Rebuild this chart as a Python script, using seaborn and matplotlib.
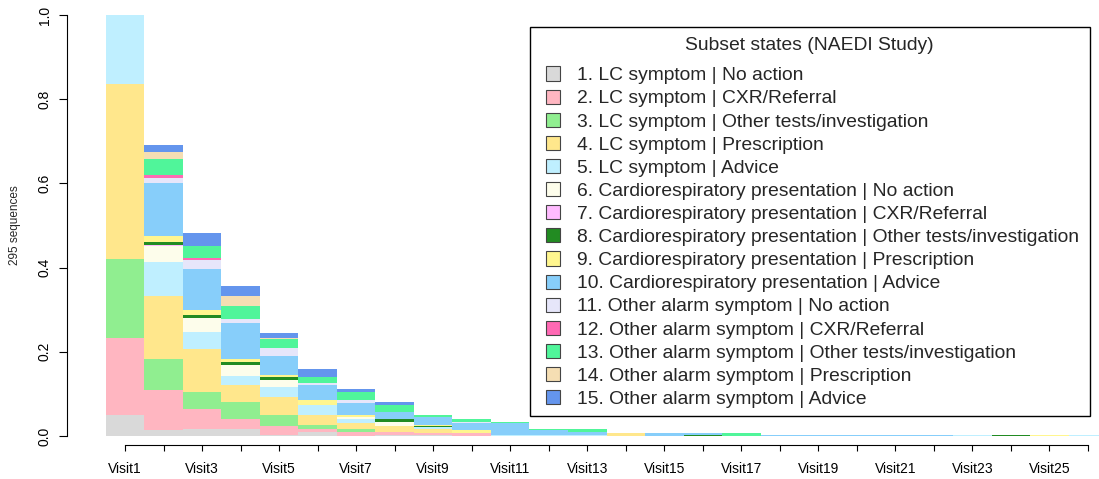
import numpy as np
import matplotlib
matplotlib.use("Agg")
import matplotlib.pyplot as plt
from matplotlib.patches import Patch, Rectangle
import seaborn as sns

N_SEQUENCES = 295
visits = [f"Visit{i}" for i in range(1, 27)]

state_labels = [
    "1. LC symptom | No action",
    "2. LC symptom | CXR/Referral",
    "3. LC symptom | Other tests/investigation",
    "4. LC symptom | Prescription",
    "5. LC symptom | Advice",
    "6. Cardiorespiratory presentation | No action",
    "7. Cardiorespiratory presentation | CXR/Referral",
    "8. Cardiorespiratory presentation | Other tests/investigation",
    "9. Cardiorespiratory presentation | Prescription",
    "10. Cardiorespiratory presentation | Advice",
    "11. Other alarm symptom | No action",
    "12. Other alarm symptom | CXR/Referral",
    "13. Other alarm symptom | Other tests/investigation",
    "14. Other alarm symptom | Prescription",
    "15. Other alarm symptom | Advice",
]

state_colors = [
    "#D9D9D9", "#FFB6C1", "#90EE90", "#FFE78C", "#BFEFFF",
    "#FDFDEB", "#FFBBFF", "#228B22", "#FFF68F", "#87CEFA",
    "#E6E6FA", "#FF69B4", "#50F59A", "#F5DEB3", "#6495ED",
]

# Number of sequences in each state at each visit (Visit1 ... Visit26)
lc_no_action      = [15, 4, 5, 5, 1, 3, 0, 1, 1, 0, 0, 0, 0, 0, 0, 0, 0, 0, 0, 0, 0, 0, 0, 0, 0, 0]
lc_cxr_referral   = [54, 28, 14, 7, 6, 2, 3, 2, 1, 2, 0, 0, 0, 0, 0, 0, 0, 0, 0, 0, 0, 0, 0, 0, 0, 0]
lc_other_tests    = [55, 22, 12, 12, 8, 3, 2, 0, 0, 0, 0, 0, 0, 0, 0, 0, 0, 0, 0, 0, 0, 0, 0, 0, 0, 0]
lc_prescription   = [123, 44, 30, 12, 12, 7, 4, 4, 3, 0, 0, 0, 0, 2, 0, 0, 0, 0, 0, 0, 0, 0, 0, 0, 0, 0]
lc_advice         = [48, 24, 12, 6, 7, 7, 3, 0, 1, 0, 1, 1, 1, 0, 0, 0, 0, 0, 0, 0, 0, 0, 1, 0, 0, 1]
cr_no_action      = [0, 11, 10, 8, 5, 0, 1, 3, 0, 0, 0, 0, 0, 0, 0, 0, 0, 0, 0, 0, 0, 0, 0, 0, 0, 0]
cr_cxr_referral   = [0, 1, 0, 0, 0, 0, 0, 0, 0, 0, 0, 0, 0, 0, 0, 0, 0, 0, 0, 0, 0, 0, 0, 0, 0, 0]
cr_other_tests    = [0, 2, 2, 2, 2, 0, 0, 2, 1, 0, 0, 0, 0, 0, 0, 1, 0, 0, 0, 0, 0, 0, 0, 1, 0, 0]
cr_prescription   = [0, 4, 3, 2, 2, 3, 2, 0, 1, 2, 0, 0, 0, 0, 0, 0, 0, 0, 0, 0, 0, 0, 0, 0, 1, 0]
cr_advice         = [0, 37, 29, 25, 13, 11, 8, 5, 5, 5, 8, 3, 2, 0, 2, 1, 0, 1, 1, 1, 1, 1, 0, 0, 0, 0]
oa_no_action      = [0, 4, 6, 3, 6, 1, 2, 0, 0, 1, 0, 0, 0, 0, 0, 0, 0, 0, 0, 0, 0, 0, 0, 0, 0, 0]
oa_cxr_referral   = [0, 2, 2, 0, 0, 0, 0, 0, 0, 0, 0, 0, 0, 0, 0, 0, 0, 0, 0, 0, 0, 0, 0, 0, 0, 0]
oa_other_tests    = [0, 11, 8, 9, 6, 4, 6, 5, 2, 2, 1, 1, 2, 0, 0, 0, 2, 0, 0, 0, 0, 0, 0, 0, 0, 0]
oa_prescription   = [0, 5, 0, 7, 1, 0, 0, 0, 0, 0, 0, 0, 0, 0, 0, 0, 0, 0, 0, 0, 0, 0, 0, 0, 0, 0]
oa_advice         = [0, 5, 9, 7, 3, 6, 2, 2, 0, 0, 0, 0, 0, 0, 0, 0, 0, 0, 0, 0, 0, 0, 0, 0, 0, 0]

state_counts = [
    lc_no_action, lc_cxr_referral, lc_other_tests, lc_prescription, lc_advice,
    cr_no_action, cr_cxr_referral, cr_other_tests, cr_prescription, cr_advice,
    oa_no_action, oa_cxr_referral, oa_other_tests, oa_prescription, oa_advice,
]

sns.set_style("ticks")
plt.rcParams["font.family"] = ["Liberation Sans", "DejaVu Sans"]

W, H = 1099, 479
fig = plt.figure(figsize=(W / 100, H / 100), dpi=100)
fig.patch.set_facecolor("white")
ax = fig.add_axes([67 / W, 34 / H, 1 - 67 / W, 430 / H])

# Stacked state distribution: one layer of bars per state
bottom = np.zeros(len(visits))
for color, counts in zip(state_colors, state_counts):
    share = np.asarray(counts, dtype=float) / N_SEQUENCES
    sns.barplot(x=visits, y=share, bottom=bottom, color=color, width=1.0,
                saturation=1, linewidth=0, edgecolor="none", errorbar=None,
                ax=ax)
    bottom += share

px = (1088 - 125) / 25.0
ax.set_xlim((67 - 125) / px, (W - 125) / px)
ax.set_ylim(-9 / 421, 1.0 + 1e-6)

ax.set_xticks(range(len(visits)))
ax.set_xticklabels([v if i % 2 == 0 else "" for i, v in enumerate(visits)])
ax.set_yticks([0, 0.2, 0.4, 0.6, 0.8, 1.0])
ax.set_yticklabels(["0.0", "0.2", "0.4", "0.6", "0.8", "1.0"],
                   rotation=90, va="center")
ax.set_xlabel("")
ax.set_ylabel(f"{N_SEQUENCES} sequences", fontsize=8.5)
ax.yaxis.set_label_coords((21 - 67) / (W - 67), (445 - 225) / 430)

sns.despine(ax=ax)
ax.spines["left"].set_bounds(0, 1)
ax.spines["bottom"].set_bounds(0, len(visits) - 1)
for side in ("left", "bottom"):
    ax.spines[side].set_linewidth(0.8)
    ax.spines[side].set_color("black")
ax.tick_params(axis="x", length=4, width=0.8, pad=8, labelsize=10,
               colors="black")
ax.tick_params(axis="y", length=6, width=0.8, pad=5, labelsize=10,
               colors="black")
ax.grid(False)

# Legend: boxed panel with a centred title and one square key per state
fig.add_artist(Rectangle((530 / W, 1 - 416 / H), 560 / W, 389 / H,
                         transform=fig.transFigure, fill=False,
                         edgecolor="black", linewidth=1.0))
fig.text(809 / W, 1 - 45 / H, "Subset states (NAEDI Study)",
         ha="center", va="center", fontsize=13.9)

handles = [Patch(facecolor=c, edgecolor="#444444", linewidth=0.8)
           for c in state_colors]
leg = fig.legend(handles, state_labels, loc="upper left",
                 bbox_to_anchor=(546 / W, 1 - 66.5 / H),
                 fontsize=13.9, frameon=False,
                 handlelength=0.75, handleheight=0.75,
                 handletextpad=0.85, labelspacing=0.275, borderpad=0,
                 borderaxespad=0)

fig.savefig("out.png", dpi=100, facecolor="white")
